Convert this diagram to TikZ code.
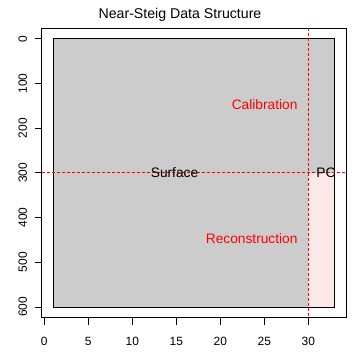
\documentclass[tikz,border=0pt]{standalone}
\usepackage{fontspec}
\setmainfont{Liberation Sans}
\usetikzlibrary{positioning, calc}
\definecolor{surfgray}{RGB}{204,204,204}
\definecolor{pcpink}{RGB}{252,232,232}
\definecolor{plotred}{RGB}{255,0,0}

\begin{document}
\begin{tikzpicture}[x=1bp, y=-1bp,
  frame/.style={draw=black, line width=0.9bp},
  axtick/.style={draw=black, line width=0.9bp},
  split/.style={draw=plotred, line width=0.9bp, dash pattern=on 3bp off 2bp},
  ticklabel/.style={font=\fontsize{12}{14}\selectfont, inner sep=0pt},
  region/.style={font=\fontsize{13.8}{16}\selectfont, inner sep=0pt}
]
\useasboundingbox (0,0) rectangle (360,360);

\node[font=\fontsize{14.2}{16}\selectfont, inner sep=0pt] (title) at (180,15) {Near-Steig Data Structure};

% data coordinates: columns 1..33, rows 0..600
\begin{scope}[xshift=44.3bp, yshift=-38.7bp, x=8.8bp, y=-0.4472bp]
  \fill[surfgray] (1,0) rectangle (33,600);
  \fill[pcpink] (30,300) rectangle (33,600);
  \draw[frame] (1,0) rectangle (33,600);

  % axes box
  \draw[frame] (-0.28,-24) rectangle (34.28,624);

  \foreach \u in {0,5,...,30} {
    \draw[axtick] (\u,624) -- ++(0,-7bp);
    \node[ticklabel] (xl\u) at ($(\u,624)+(0,-24bp)$) {\u};
  }
  \foreach \v in {0,100,...,600} {
    \draw[axtick] (-0.28,\v) -- ++(-7bp,0);
    \node[ticklabel, rotate=90] (yl\v) at ($(-0.28,\v)+(-19bp,0)$) {\v};
  }

  % split lines
  \draw[split] (30,-24) -- (30,624);
  \draw[split] (-0.28,300) -- (34.28,300);

  \node[region, anchor=east, text=plotred] (calib) at (28.8,148) {Calibration};
  \node[region, anchor=east, text=plotred] (recon) at (28.8,448) {Reconstruction};
  \node[region] (surface) at (14.8,300) {Surface};
  \node[region] (pc) at (32,300) {PC};
\end{scope}
\end{tikzpicture}
\end{document}
